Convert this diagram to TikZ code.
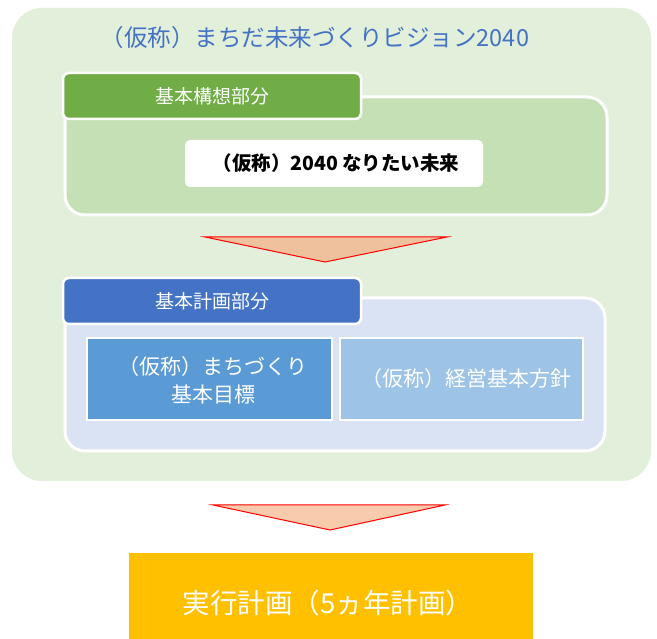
\documentclass[tikz,border=0pt]{standalone}
\usepackage{fontspec}
\newfontfamily\jp{Noto Sans CJK JP}
\definecolor{outerg}{HTML}{E2EFDA}
\definecolor{tabg}{HTML}{70AD47}
\definecolor{panelg}{HTML}{C5E0B4}
\definecolor{tabb}{HTML}{4472C4}
\definecolor{panelb}{HTML}{DAE3F3}
\definecolor{boxa}{HTML}{5B9BD5}
\definecolor{boxb}{HTML}{9DC3E6}
\definecolor{tri1}{HTML}{EFC19C}
\definecolor{tri2}{HTML}{F8CBAD}
\definecolor{plan}{HTML}{FFC000}
\definecolor{titleblue}{HTML}{4472C4}
\tikzset{
  panel/.style={draw=white, line width=3pt, rounded corners=20pt},
  tabbox/.style={draw=white, line width=2.5pt, rounded corners=6pt},
  subbox/.style={draw=white, line width=2pt},
  arrowtri/.style={draw=red, line width=1pt, line join=miter},
  lbl/.style={font=\jp\fontsize{19}{22}\selectfont, text=white, inner sep=0pt},
}
\begin{document}
\begin{tikzpicture}[x=1pt,y=-1pt]
\useasboundingbox (0,0) rectangle (657,639);
\fill[white] (0,0) rectangle (657,639);
% outer region
\fill[outerg, rounded corners=30pt] (12,8) rectangle (651,481);
\node[font=\jp\fontsize{23.5}{26}\selectfont, text=titleblue, inner sep=0pt] (title) at (315,38) {（仮称）まちだ未来づくりビジョン2040};
% basic concept part
\draw[panel, fill=panelg] (65,97) rectangle (607,215);
\draw[tabbox, fill=tabg] (63,73) rectangle (361,119);
\node[lbl] (tabA) at (212,96) {基本構想部分};
\fill[white, rounded corners=5pt] (185,140) rectangle (483,187);
\node[font=\jp\bfseries\fontsize{19.5}{22}\selectfont, inner sep=0pt] (vision) at (336,163) {（仮称）2040 なりたい未来};
% arrow 1
\draw[arrowtri, fill=tri1] (205,237) -- (447,237) -- (325,262) -- cycle;
% basic plan part
\draw[panel, fill=panelb] (65,298) rectangle (605,451);
\draw[tabbox, fill=tabb] (63,278) rectangle (361,324);
\node[lbl] (tabB) at (212,301) {基本計画部分};
\draw[subbox, fill=boxa] (87,338) rectangle (332,420);
\node[font=\jp\fontsize{21}{28}\selectfont, text=white, align=center, inner sep=0pt] (goal) at (213,380) {（仮称）まちづくり\\基本目標};
\draw[subbox, fill=boxb] (340,338) rectangle (583,420);
\node[font=\jp\fontsize{21}{24}\selectfont, text=white, inner sep=0pt] (policy) at (466,379) {（仮称）経営基本方針};
% arrow 2
\draw[arrowtri, fill=tri2] (213,505) -- (445,505) -- (330,530) -- cycle;
% implementation plan
\fill[plan] (129,553) rectangle (533,639);
\node[font=\jp\fontsize{27.5}{31}\selectfont, text=white, inner sep=0pt] (impl) at (328,603) {実行計画（5ヵ年計画）};
\end{tikzpicture}
\end{document}
